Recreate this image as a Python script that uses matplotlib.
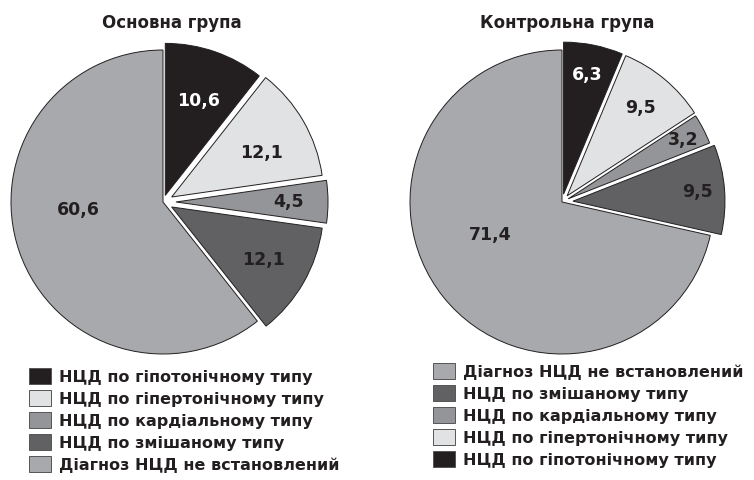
import numpy as np
import matplotlib.pyplot as plt
from matplotlib.patches import Patch

plt.rcParams['font.family'] = ['DejaVu Sans']

categories = ['НЦД по гіпотонічному типу', 'НЦД по гіпертонічному типу',
              'НЦД по кардіальному типу', 'НЦД по змішаному типу',
              'Діагноз НЦД не встановлений']
main_vals = [10.6, 12.1, 4.5, 12.1, 60.6]
ctrl_vals = [6.3, 9.5, 3.2, 9.5, 71.4]
main_labels = ['10,6', '12,1', '4,5', '12,1', '60,6']
ctrl_labels = ['6,3', '9,5', '3,2', '9,5', '71,4']

colors = ['#231f20', '#e1e2e4', '#949598', '#616163', '#a8a9ac']
txt_colors = ['white', '#231f20', '#231f20', '#231f20', '#231f20']
edge = '#231f20'

fig = plt.figure(figsize=(7.54, 4.8), dpi=100)
ax = fig.add_axes([0, 0, 1, 1])

R = 152


def draw_pie(vals, labels, cx, cy, explode, lab_r, lab_shift):
    # explode is in data units (pixels here)
    wedges, _ = ax.pie(vals, colors=colors, startangle=90, counterclock=False,
                       radius=R, center=(cx, cy), explode=explode,
                       wedgeprops=dict(edgecolor=edge, linewidth=0.7))
    for w, lab, tc, r, sh in zip(wedges, labels, txt_colors, lab_r, lab_shift):
        ang = np.deg2rad((w.theta1 + w.theta2) / 2 + sh)
        x0, y0 = w.center
        ax.text(x0 + r * R * np.cos(ang), y0 + r * R * np.sin(ang), lab,
                ha='center', va='center', fontsize=12.5, fontweight='bold', color=tc)


draw_pie(main_vals, main_labels, 163, 278, [7, 10, 13, 10, 0],
         [0.66, 0.66, 0.74, 0.7, 0.56], [0, -4, 0, 0, -14])
draw_pie(ctrl_vals, ctrl_labels, 562, 278, [8, 8, 7, 11, 0],
         [0.8, 0.75, 0.85, 0.82, 0.52], [0, 0, 0, 0, -14])

ax.text(172, 457, 'Основна група', ha='center', va='center',
        fontsize=12, fontweight='bold', color=edge)
ax.text(567, 457, 'Контрольна група', ha='center', va='center',
        fontsize=12, fontweight='bold', color=edge)

handles = [Patch(facecolor=c, edgecolor='#555555', linewidth=0.7) for c in colors]
leg_kw = dict(frameon=False, handlelength=1.4, handleheight=1.2,
              handletextpad=0.45, labelspacing=0.34, borderpad=0, borderaxespad=0,
              prop={'weight': 'bold', 'size': 11.5, 'family': 'DejaVu Sans'},
              labelcolor=edge)
ax.legend(handles, categories, loc='upper left',
          bbox_to_anchor=(29 / 754, 1 - 368 / 480), **leg_kw)
leg1 = ax.get_legend()
ax.add_artist(leg1)
ax.legend(handles[::-1], categories[::-1], loc='upper left',
          bbox_to_anchor=(433 / 754, 1 - 363 / 480), **leg_kw)

ax.set_xlim(0, 754)
ax.set_ylim(0, 480)
ax.set_aspect('equal')
ax.axis('off')

plt.savefig('out.png', dpi=100)
